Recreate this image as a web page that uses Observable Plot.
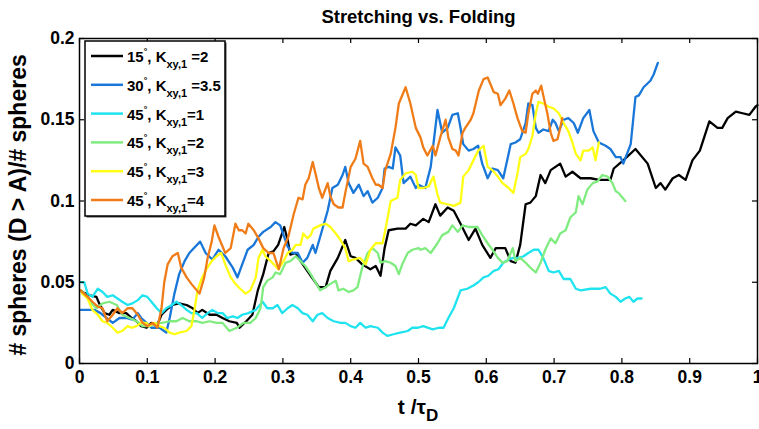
<!DOCTYPE html>
<html><head><meta charset="utf-8">
<script src="https://cdn.jsdelivr.net/npm/d3@7"></script>
<script src="https://cdn.jsdelivr.net/npm/@observablehq/plot@0.6"></script>
<style>body{margin:0;background:#fff;}</style>
</head><body><div id="chart"></div>
<script>
// [t / tau_D, fraction of spheres with D > A]
const s15k2 = [[0.002,0.045],[0.004,0.044],[0.015,0.042],[0.025,0.041],[0.029,0.037],[0.037,0.031],[0.044,0.030],[0.049,0.033],[0.059,0.031],[0.069,0.031],[0.077,0.028],[0.084,0.026],[0.091,0.023],[0.099,0.022],[0.106,0.025],[0.114,0.023],[0.121,0.030],[0.128,0.033],[0.137,0.036],[0.147,0.037],[0.158,0.036],[0.167,0.034],[0.174,0.031],[0.181,0.033],[0.192,0.030],[0.202,0.030],[0.211,0.028],[0.221,0.026],[0.232,0.025],[0.236,0.022],[0.246,0.026],[0.255,0.030],[0.263,0.045],[0.271,0.055],[0.279,0.068],[0.286,0.069],[0.293,0.073],[0.302,0.084],[0.307,0.076],[0.311,0.067],[0.319,0.068],[0.326,0.063],[0.341,0.054],[0.353,0.047],[0.363,0.047],[0.370,0.057],[0.381,0.065],[0.392,0.076],[0.400,0.066],[0.407,0.065],[0.417,0.061],[0.429,0.058],[0.437,0.060],[0.444,0.054],[0.450,0.071],[0.456,0.082],[0.469,0.083],[0.481,0.083],[0.488,0.086],[0.496,0.085],[0.507,0.089],[0.515,0.087],[0.525,0.098],[0.532,0.091],[0.543,0.096],[0.552,0.094],[0.562,0.086],[0.574,0.076],[0.584,0.083],[0.594,0.073],[0.606,0.065],[0.614,0.071],[0.628,0.071],[0.636,0.063],[0.643,0.062],[0.650,0.073],[0.658,0.098],[0.665,0.099],[0.673,0.103],[0.680,0.116],[0.687,0.111],[0.695,0.119],[0.709,0.123],[0.717,0.115],[0.727,0.118],[0.739,0.114],[0.754,0.114],[0.766,0.113],[0.783,0.113],[0.788,0.120],[0.802,0.125],[0.820,0.132],[0.838,0.123],[0.850,0.108],[0.857,0.111],[0.864,0.107],[0.875,0.114],[0.884,0.116],[0.894,0.113],[0.904,0.125],[0.915,0.131],[0.929,0.149],[0.941,0.145],[0.948,0.145],[0.956,0.151],[0.968,0.155],[0.978,0.154],[0.988,0.153],[0.997,0.158],[1.000,0.159]];
const s30k35 = [[0.002,0.033],[0.007,0.033],[0.022,0.033],[0.031,0.031],[0.040,0.028],[0.049,0.025],[0.059,0.028],[0.069,0.028],[0.078,0.027],[0.086,0.031],[0.091,0.028],[0.099,0.025],[0.106,0.022],[0.118,0.022],[0.128,0.019],[0.133,0.028],[0.140,0.043],[0.147,0.055],[0.155,0.063],[0.162,0.068],[0.171,0.072],[0.178,0.075],[0.186,0.068],[0.196,0.064],[0.205,0.070],[0.215,0.066],[0.226,0.059],[0.233,0.053],[0.240,0.061],[0.248,0.070],[0.257,0.073],[0.264,0.078],[0.271,0.081],[0.282,0.084],[0.289,0.087],[0.296,0.085],[0.301,0.079],[0.307,0.072],[0.314,0.068],[0.322,0.068],[0.329,0.062],[0.336,0.065],[0.344,0.073],[0.348,0.068],[0.355,0.078],[0.366,0.094],[0.373,0.108],[0.381,0.110],[0.388,0.116],[0.392,0.121],[0.397,0.111],[0.404,0.105],[0.412,0.110],[0.419,0.103],[0.425,0.106],[0.432,0.099],[0.440,0.102],[0.447,0.108],[0.450,0.120],[0.456,0.121],[0.462,0.120],[0.466,0.133],[0.473,0.128],[0.478,0.111],[0.488,0.115],[0.496,0.108],[0.500,0.110],[0.510,0.108],[0.518,0.121],[0.522,0.135],[0.528,0.156],[0.535,0.142],[0.543,0.145],[0.550,0.153],[0.558,0.154],[0.562,0.145],[0.566,0.135],[0.574,0.131],[0.581,0.132],[0.588,0.134],[0.594,0.123],[0.602,0.114],[0.609,0.120],[0.617,0.119],[0.625,0.114],[0.636,0.135],[0.643,0.136],[0.650,0.138],[0.658,0.148],[0.662,0.160],[0.668,0.159],[0.673,0.145],[0.677,0.142],[0.684,0.144],[0.692,0.143],[0.698,0.150],[0.702,0.148],[0.707,0.143],[0.714,0.150],[0.721,0.151],[0.729,0.148],[0.735,0.142],[0.743,0.151],[0.752,0.156],[0.758,0.143],[0.766,0.136],[0.776,0.134],[0.783,0.132],[0.791,0.127],[0.798,0.127],[0.802,0.123],[0.813,0.135],[0.820,0.164],[0.825,0.165],[0.832,0.170],[0.842,0.174],[0.847,0.178],[0.853,0.185]];
const s45k1 = [[0.002,0.050],[0.007,0.050],[0.012,0.043],[0.019,0.041],[0.027,0.046],[0.034,0.044],[0.041,0.041],[0.049,0.042],[0.056,0.040],[0.063,0.038],[0.071,0.036],[0.078,0.037],[0.086,0.039],[0.093,0.042],[0.100,0.041],[0.106,0.038],[0.114,0.034],[0.121,0.031],[0.128,0.034],[0.136,0.036],[0.143,0.038],[0.150,0.036],[0.158,0.033],[0.165,0.031],[0.173,0.031],[0.181,0.028],[0.189,0.031],[0.196,0.033],[0.204,0.031],[0.211,0.031],[0.218,0.028],[0.226,0.029],[0.233,0.028],[0.240,0.030],[0.249,0.031],[0.260,0.033],[0.270,0.038],[0.277,0.034],[0.285,0.034],[0.292,0.036],[0.299,0.031],[0.307,0.034],[0.314,0.036],[0.322,0.034],[0.329,0.031],[0.336,0.030],[0.344,0.026],[0.351,0.030],[0.358,0.031],[0.366,0.028],[0.375,0.026],[0.385,0.025],[0.392,0.025],[0.400,0.023],[0.407,0.022],[0.414,0.025],[0.422,0.022],[0.429,0.023],[0.440,0.022],[0.447,0.019],[0.454,0.017],[0.463,0.018],[0.473,0.019],[0.484,0.020],[0.491,0.022],[0.499,0.022],[0.507,0.023],[0.521,0.021],[0.530,0.022],[0.537,0.022],[0.544,0.028],[0.552,0.034],[0.562,0.045],[0.572,0.046],[0.581,0.048],[0.588,0.050],[0.596,0.053],[0.603,0.054],[0.611,0.057],[0.618,0.058],[0.625,0.062],[0.633,0.064],[0.640,0.065],[0.648,0.065],[0.655,0.066],[0.662,0.068],[0.670,0.070],[0.677,0.070],[0.684,0.065],[0.692,0.057],[0.699,0.056],[0.707,0.057],[0.714,0.052],[0.724,0.052],[0.732,0.046],[0.739,0.045],[0.754,0.046],[0.768,0.046],[0.776,0.047],[0.783,0.043],[0.791,0.041],[0.798,0.038],[0.805,0.040],[0.811,0.041],[0.817,0.038],[0.823,0.040],[0.829,0.040]];
const s45k2 = [[0.002,0.045],[0.007,0.043],[0.015,0.038],[0.025,0.034],[0.034,0.037],[0.044,0.038],[0.055,0.036],[0.063,0.030],[0.074,0.028],[0.084,0.026],[0.093,0.023],[0.103,0.023],[0.114,0.025],[0.122,0.025],[0.133,0.026],[0.143,0.026],[0.152,0.028],[0.162,0.026],[0.173,0.026],[0.181,0.025],[0.192,0.026],[0.202,0.025],[0.211,0.025],[0.221,0.020],[0.232,0.022],[0.242,0.025],[0.252,0.025],[0.260,0.028],[0.267,0.034],[0.271,0.047],[0.277,0.051],[0.285,0.053],[0.289,0.056],[0.296,0.055],[0.304,0.062],[0.311,0.063],[0.319,0.066],[0.326,0.063],[0.333,0.060],[0.341,0.055],[0.348,0.050],[0.355,0.045],[0.363,0.047],[0.370,0.049],[0.378,0.051],[0.382,0.045],[0.389,0.046],[0.397,0.044],[0.404,0.045],[0.410,0.047],[0.417,0.059],[0.425,0.068],[0.432,0.071],[0.440,0.068],[0.444,0.062],[0.451,0.063],[0.459,0.062],[0.466,0.060],[0.471,0.055],[0.476,0.061],[0.484,0.068],[0.491,0.070],[0.500,0.071],[0.503,0.070],[0.510,0.071],[0.518,0.068],[0.528,0.074],[0.535,0.079],[0.544,0.081],[0.550,0.085],[0.558,0.081],[0.565,0.085],[0.574,0.084],[0.587,0.084],[0.594,0.079],[0.602,0.074],[0.609,0.070],[0.617,0.065],[0.624,0.062],[0.631,0.063],[0.639,0.071],[0.643,0.063],[0.650,0.065],[0.658,0.062],[0.665,0.059],[0.673,0.056],[0.680,0.062],[0.687,0.070],[0.695,0.077],[0.702,0.074],[0.709,0.080],[0.717,0.082],[0.724,0.090],[0.732,0.093],[0.736,0.103],[0.742,0.098],[0.749,0.107],[0.757,0.111],[0.764,0.112],[0.771,0.116],[0.779,0.115],[0.786,0.111],[0.791,0.106],[0.795,0.105],[0.801,0.102],[0.805,0.100]];
const s45k3 = [[0.002,0.045],[0.004,0.043],[0.012,0.040],[0.019,0.033],[0.027,0.030],[0.034,0.026],[0.041,0.025],[0.049,0.022],[0.056,0.019],[0.063,0.020],[0.071,0.023],[0.077,0.022],[0.084,0.023],[0.091,0.025],[0.099,0.025],[0.103,0.023],[0.111,0.025],[0.118,0.023],[0.125,0.022],[0.133,0.019],[0.140,0.018],[0.147,0.019],[0.158,0.020],[0.165,0.023],[0.170,0.034],[0.174,0.045],[0.180,0.052],[0.187,0.058],[0.195,0.063],[0.202,0.066],[0.209,0.068],[0.215,0.061],[0.223,0.053],[0.230,0.049],[0.237,0.046],[0.245,0.043],[0.252,0.045],[0.260,0.053],[0.264,0.065],[0.270,0.070],[0.274,0.066],[0.282,0.063],[0.289,0.060],[0.293,0.058],[0.301,0.063],[0.307,0.068],[0.314,0.070],[0.319,0.073],[0.326,0.073],[0.330,0.080],[0.336,0.077],[0.341,0.079],[0.345,0.083],[0.355,0.085],[0.363,0.086],[0.370,0.084],[0.378,0.080],[0.385,0.076],[0.392,0.071],[0.397,0.063],[0.404,0.064],[0.414,0.065],[0.422,0.061],[0.429,0.070],[0.437,0.074],[0.447,0.074],[0.451,0.082],[0.459,0.100],[0.469,0.102],[0.473,0.113],[0.481,0.117],[0.491,0.118],[0.496,0.116],[0.500,0.108],[0.507,0.108],[0.515,0.109],[0.522,0.115],[0.528,0.104],[0.532,0.099],[0.543,0.098],[0.552,0.097],[0.562,0.099],[0.566,0.115],[0.574,0.119],[0.581,0.125],[0.588,0.131],[0.596,0.134],[0.602,0.121],[0.609,0.119],[0.617,0.115],[0.624,0.111],[0.633,0.108],[0.640,0.105],[0.646,0.117],[0.650,0.127],[0.658,0.129],[0.662,0.132],[0.668,0.140],[0.673,0.154],[0.677,0.161],[0.684,0.160],[0.692,0.158],[0.699,0.157],[0.707,0.154],[0.714,0.148],[0.721,0.143],[0.727,0.136],[0.732,0.129],[0.739,0.125],[0.743,0.131],[0.751,0.131],[0.757,0.133],[0.761,0.125],[0.766,0.136]];
const s45k4 = [[0.002,0.045],[0.004,0.044],[0.012,0.041],[0.019,0.038],[0.027,0.035],[0.034,0.034],[0.041,0.026],[0.049,0.030],[0.056,0.034],[0.063,0.031],[0.071,0.034],[0.078,0.034],[0.086,0.030],[0.093,0.025],[0.100,0.023],[0.108,0.025],[0.115,0.022],[0.121,0.034],[0.125,0.050],[0.130,0.061],[0.137,0.066],[0.145,0.068],[0.150,0.059],[0.158,0.053],[0.165,0.049],[0.173,0.045],[0.177,0.043],[0.184,0.053],[0.189,0.065],[0.195,0.075],[0.199,0.085],[0.205,0.078],[0.211,0.072],[0.215,0.068],[0.223,0.071],[0.230,0.086],[0.235,0.082],[0.240,0.082],[0.245,0.080],[0.249,0.086],[0.257,0.082],[0.264,0.077],[0.271,0.071],[0.279,0.068],[0.286,0.068],[0.294,0.058],[0.301,0.071],[0.308,0.078],[0.316,0.092],[0.323,0.102],[0.329,0.101],[0.333,0.110],[0.338,0.114],[0.344,0.124],[0.348,0.117],[0.353,0.108],[0.358,0.102],[0.366,0.111],[0.370,0.103],[0.375,0.098],[0.382,0.096],[0.388,0.096],[0.392,0.105],[0.400,0.121],[0.407,0.126],[0.414,0.137],[0.419,0.123],[0.425,0.121],[0.432,0.114],[0.437,0.110],[0.441,0.110],[0.447,0.108],[0.451,0.119],[0.459,0.129],[0.466,0.145],[0.471,0.160],[0.481,0.170],[0.488,0.160],[0.496,0.145],[0.503,0.139],[0.507,0.133],[0.513,0.128],[0.521,0.134],[0.525,0.128],[0.532,0.139],[0.540,0.150],[0.544,0.139],[0.550,0.132],[0.555,0.131],[0.559,0.128],[0.565,0.142],[0.569,0.145],[0.577,0.150],[0.581,0.154],[0.589,0.168],[0.596,0.175],[0.602,0.176],[0.606,0.172],[0.611,0.167],[0.617,0.166],[0.621,0.159],[0.628,0.163],[0.634,0.168],[0.640,0.160],[0.646,0.151],[0.653,0.143],[0.658,0.142],[0.662,0.154],[0.668,0.166],[0.673,0.168],[0.676,0.166],[0.681,0.171],[0.684,0.165],[0.690,0.154],[0.695,0.142],[0.699,0.137],[0.705,0.138],[0.709,0.145],[0.712,0.151]];

const seriesNames = ["15,2", "30,3.5", "45,1", "45,2", "45,3", "45,4"];
const seriesAngles = ["15", "30", "45", "45", "45", "45"];
const seriesK = [" =2", " =3.5", "=1", "=2", "=3", "=4"];
const seriesColors = ["#000000", "#1877d8", "#1fe3ee", "#80ec80", "#ffff14", "#f07c18"];
const seriesData = [s15k2, s30k35, s45k1, s45k2, s45k3, s45k4];

const xTicks = [0, 0.1, 0.2, 0.3, 0.4, 0.5, 0.6, 0.7, 0.8, 0.9, 1];
const yTicks = [0, 0.05, 0.1, 0.15, 0.2];
const xTickLabels = ["0", "0.1", "0.2", "0.3", "0.4", "0.5", "0.6", "0.7", "0.8", "0.9", "1"];
const yTickLabels = ["0", "0.05", "0.1", "0.15", "0.2"];

const rows = seriesData.flatMap((d, i) => d.map(([t, v]) => ({series: seriesNames[i], t, v})));
const font = "Arial, 'Liberation Sans', Helvetica, sans-serif";

const plot = Plot.plot({
  width: 759, height: 429,
  marginTop: 38, marginBottom: 66, marginLeft: 79, marginRight: 2,
  style: {fontFamily: font, fontSize: "17.5px", fontWeight: "bold", background: "white", color: "black"},
  x: {domain: [0, 1]},
  y: {domain: [0, 0.2]},
  color: {domain: seriesNames, range: seriesColors},
  marks: [
    Plot.lineY(rows, {x: "t", y: "v", z: "series", stroke: "series", strokeWidth: 2.3, strokeLinejoin: "round"}),
    Plot.tickX(xTicks, {x: d => d, insetTop: 320, stroke: "black", strokeWidth: 1.2}),
    Plot.tickX(xTicks, {x: d => d, insetBottom: 320, stroke: "black", strokeWidth: 1.2}),
    Plot.tickY(yTicks, {y: d => d, insetRight: 673, stroke: "black", strokeWidth: 1.2}),
    Plot.tickY(yTicks, {y: d => d, insetLeft: 673, stroke: "black", strokeWidth: 1.2}),
    Plot.frame({stroke: "black", strokeWidth: 1.5}),
    Plot.axisX(xTicks, {tickSize: 0, tickPadding: 7, tickFormat: (d, i) => xTickLabels[i], label: null}),
    Plot.axisY(yTicks, {tickSize: 0, tickPadding: 5, tickFormat: (d, i) => yTickLabels[i], label: null}),
    Plot.text(["Stretching vs. Folding"], {frameAnchor: "top", dy: -21, lineAnchor: "middle", fontSize: 18.5, fontWeight: "bold"}),
    Plot.text(["# spheres (D > A)/# spheres"], {frameAnchor: "left", dx: -61, dy: 4, rotate: -90, textAnchor: "middle", fontSize: 23, fontWeight: "bold"})
  ]
});
document.getElementById("chart").appendChild(plot);

const svg = d3.select(plot);
// x label with subscript
const xl = svg.append("text").attr("x", 418).attr("y", 414).attr("text-anchor", "middle")
  .attr("font-family", font).attr("font-weight", "bold").attr("font-size", 21).attr("fill", "black");
xl.append("tspan").text("t /τ");
xl.append("tspan").attr("font-size", 17).attr("dy", 7).text("D");

// legend
const lg = svg.append("g").attr("font-family", font).attr("font-weight", "bold").attr("text-anchor", "start");
lg.append("rect").attr("x", 86.5).attr("y", 42.5).attr("width", 140).attr("height", 175).attr("fill", "#444");
lg.append("rect").attr("x", 85).attr("y", 41).attr("width", 140).attr("height", 175)
  .attr("fill", "white").attr("stroke", "black").attr("stroke-width", 1.5);
seriesNames.forEach((n, i) => {
  const y = 56 + i * 28.8;
  lg.append("line").attr("x1", 91).attr("x2", 123).attr("y1", y).attr("y2", y)
    .attr("stroke", seriesColors[i]).attr("stroke-width", 2.5);
  const tx = lg.append("text").attr("x", 127).attr("y", y + 6).attr("font-size", 15).attr("fill", "black").attr("text-anchor", "start");
  tx.append("tspan").text(seriesAngles[i]);
  tx.append("tspan").attr("font-size", 9).attr("dy", -8).text("°");
  tx.append("tspan").attr("dy", 8).text(", K");
  tx.append("tspan").attr("font-size", 11).attr("dy", 6).text("xy,1");
  tx.append("tspan").attr("dy", -6).text(seriesK[i]);
});
</script>
</body></html>
